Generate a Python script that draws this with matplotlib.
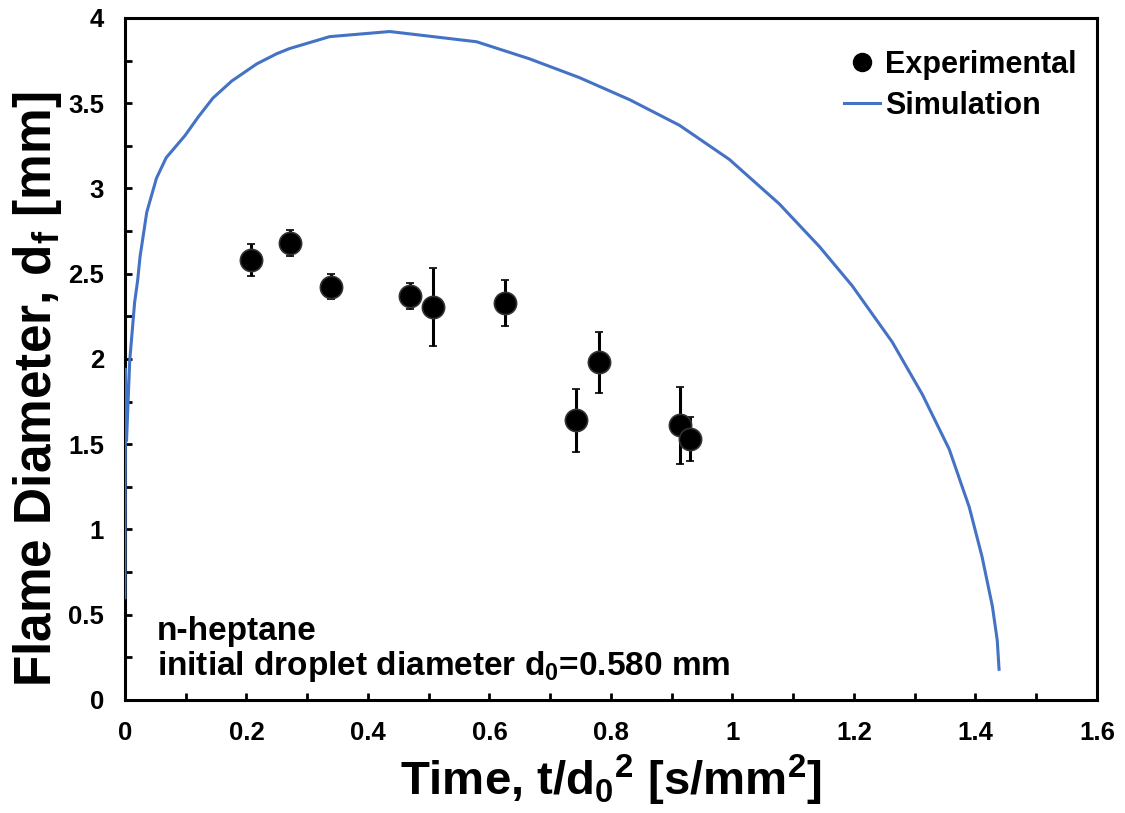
import matplotlib
matplotlib.use("Agg")
import matplotlib.pyplot as plt
from matplotlib.lines import Line2D
from matplotlib.ticker import MultipleLocator, FuncFormatter

# experimental points (t/d0^2, flame diameter, error)
exp_t = [0.207, 0.271, 0.339, 0.470, 0.507, 0.626, 0.743, 0.780, 0.914, 0.931]
exp_df = [2.58, 2.678, 2.424, 2.370, 2.307, 2.327, 1.64, 1.98, 1.61, 1.53]
exp_err = [0.094, 0.077, 0.075, 0.076, 0.229, 0.133, 0.185, 0.18, 0.225, 0.13]

# simulation curve
sim_t = [0.0, 0.001, 0.0027, 0.008, 0.016, 0.021, 0.025, 0.036, 0.052, 0.068,
         0.099, 0.121, 0.145, 0.176, 0.217, 0.25, 0.271, 0.337, 0.436, 0.579,
         0.666, 0.748, 0.831, 0.913, 0.995, 1.077, 1.143, 1.197, 1.263, 1.313,
         1.357, 1.390, 1.411, 1.428, 1.436, 1.439]
sim_df = [0.6, 1.94, 1.52, 1.99, 2.33, 2.46, 2.6, 2.86, 3.06, 3.18,
          3.31, 3.42, 3.53, 3.63, 3.73, 3.79, 3.82, 3.89, 3.92, 3.86,
          3.76, 3.65, 3.52, 3.37, 3.17, 2.91, 2.66, 2.43, 2.10, 1.79,
          1.47, 1.13, 0.84, 0.55, 0.35, 0.18]

plt.rcParams['font.family'] = ['Liberation Sans', 'DejaVu Sans']
plt.rcParams['font.weight'] = 'bold'
plt.rcParams['mathtext.fontset'] = 'custom'
plt.rcParams['mathtext.rm'] = 'Liberation Sans:bold'
plt.rcParams['mathtext.it'] = 'Liberation Sans:bold'
plt.rcParams['mathtext.bf'] = 'Liberation Sans:bold'

fig = plt.figure(figsize=(11.25, 8.13), dpi=100)
ax = fig.add_axes([0.111, 0.139, 0.864, 0.839])

ax.plot(sim_t, sim_df, color="#4472C4", lw=2.2, zorder=2.6)
ax.errorbar(exp_t, exp_df, yerr=exp_err, fmt="o", color="black",
            markersize=16, markerfacecolor="black", markeredgecolor="#333333",
            markeredgewidth=1.2, ecolor="black", elinewidth=2.2,
            capsize=3, capthick=2.2, zorder=3)

ax.set_xlim(0, 1.6)
ax.set_ylim(0, 4)
ax.xaxis.set_major_locator(MultipleLocator(0.2))
ax.xaxis.set_minor_locator(MultipleLocator(0.1))
ax.yaxis.set_major_locator(MultipleLocator(0.5))
ax.yaxis.set_minor_locator(MultipleLocator(0.25))
fmt = FuncFormatter(lambda v, p: f"{v:g}")
ax.xaxis.set_major_formatter(fmt)
ax.yaxis.set_major_formatter(fmt)

ax.tick_params(which="both", direction="in", length=5, width=2, color="black")
ax.tick_params(which="major", labelsize=18.5, pad=15)
for lab in ax.get_xticklabels() + ax.get_yticklabels():
    lab.set_fontweight("bold")
for sp in ax.spines.values():
    sp.set_linewidth(2.2)

ax.set_xlabel("Time, t/d$_0$$^2$ [s/mm$^2$]", fontsize=34, fontweight="bold", labelpad=6)
ax.set_ylabel("Flame Diameter, d$_f$ [mm]", fontsize=37, fontweight="bold")
ax.yaxis.set_label_coords(-0.063, 0.455)

handles = [Line2D([], [], ls="none", marker="o", markersize=13, color="black"),
           Line2D([], [], color="#4472C4", lw=2.2)]
ax.legend(handles, ["Experimental", "Simulation"], loc="upper right",
          bbox_to_anchor=(1.012, 1.0), frameon=False,
          fontsize=22, handlelength=1.2, handletextpad=0.15,
          borderaxespad=0.75, borderpad=0.3, labelspacing=0.35)

ax.text(0.033, 0.088, "n-heptane", transform=ax.transAxes, fontsize=24,
        fontweight="bold", va="baseline", ha="left")
ax.text(0.033, 0.037, "initial droplet diameter d$_0$=0.580 mm",
        transform=ax.transAxes, fontsize=24, fontweight="bold",
        va="baseline", ha="left")

fig.savefig("out.png", dpi=100)
